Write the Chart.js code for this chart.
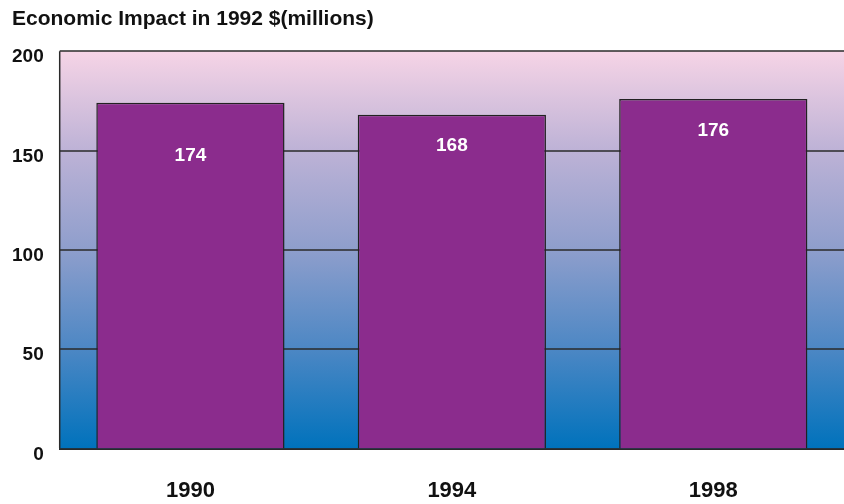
<!DOCTYPE html>
<html lang="en">
<head>
    <meta charset="UTF-8">
    <title>Economic Impact</title>
    <script src="https://cdn.jsdelivr.net/npm/chart.js"></script>
    <style>
        body {
            margin: 0;
            background: white;
            font-family: "Liberation Sans", Arial, sans-serif;
        }
    </style>
</head>
<body>
    <canvas id="impactChart" width="844" height="504"></canvas>

    <script>
        const years = ['1990', '1994', '1998'];
        const impact = [174, 168, 176];
        const yTicks = [0, 50, 100, 150, 200];
        // how far below each bar top its value label sits
        const labelOffsets = [53, 31, 32];

        const FONT = '"Liberation Sans", Arial, sans-serif';

        // gradient fill behind the bars
        const backdrop = {
            id: 'backdrop',
            beforeDatasetsDraw(chart) {
                const a = chart.chartArea;
                const ctx = chart.ctx;
                const g = ctx.createLinearGradient(0, a.top, 0, a.bottom);
                g.addColorStop(0, '#f6d4e6');
                g.addColorStop(0.25, '#bdb2d6');
                g.addColorStop(0.5, '#8e9ecc');
                g.addColorStop(0.75, '#4c87c4');
                g.addColorStop(1, '#0072bc');
                ctx.save();
                ctx.fillStyle = g;
                ctx.fillRect(a.left, a.top, a.right - a.left, a.bottom - a.top);
                // grid lines over the fill, under the bars
                const y = chart.scales.y;
                ctx.strokeStyle = '#2a2a2a';
                ctx.lineWidth = 1.5;
                yTicks.forEach(function(t) {
                    const py = Math.round(y.getPixelForValue(t));
                    ctx.beginPath();
                    ctx.moveTo(a.left, py);
                    ctx.lineTo(a.right, py);
                    ctx.stroke();
                });
                ctx.beginPath();
                ctx.moveTo(a.left, a.top);
                ctx.lineTo(a.left, a.bottom);
                ctx.stroke();
                ctx.restore();
            }
        };

        const valueLabels = {
            id: 'valueLabels',
            afterDatasetsDraw(chart) {
                const ctx = chart.ctx;
                const meta = chart.getDatasetMeta(0);
                ctx.save();
                ctx.fillStyle = 'white';
                ctx.font = 'bold 19px ' + FONT;
                ctx.textAlign = 'center';
                ctx.textBaseline = 'middle';
                meta.data.forEach(function(bar, i) {
                    ctx.fillText(impact[i], bar.x, bar.y + labelOffsets[i]);
                });
                ctx.restore();
            }
        };

        const ctx = document.getElementById('impactChart').getContext('2d');
        new Chart(ctx, {
            type: 'bar',
            data: {
                labels: years,
                datasets: [{
                    data: impact,
                    backgroundColor: '#8b2c8d',
                    borderColor: '#222222',
                    borderWidth: 1.5,
                    borderSkipped: 'bottom',
                    categoryPercentage: 0.72,
                    barPercentage: 1
                }]
            },
            options: {
                responsive: false,
                animation: false,
                layout: { padding: { left: 12, right: 0, top: 0, bottom: 0 } },
                plugins: {
                    legend: { display: false },
                    tooltip: { enabled: false },
                    title: {
                        display: true,
                        text: 'Economic Impact in 1992 $(millions)',
                        align: 'start',
                        color: '#111',
                        font: { family: FONT, size: 21, weight: 'bold' },
                        padding: { top: 7, bottom: 19 }
                    }
                },
                scales: {
                    x: {
                        // tick gap comes from tickLength (counted once), not padding
                        grid: { display: false, tickLength: 29 },
                        border: { display: true, color: '#2a2a2a', width: 2 },
                        ticks: {
                            color: '#111',
                            padding: 0,
                            font: { family: FONT, size: 22, weight: 'bold' }
                        }
                    },
                    y: {
                        min: 0,
                        max: 200,
                        afterBuildTicks(axis) {
                            axis.ticks = yTicks.map(function(v) { return { value: v }; });
                        },
                        grid: { display: false, tickLength: 16 },
                        border: { display: false },
                        ticks: {
                            color: '#111',
                            padding: 0,
                            labelOffset: 6,
                            font: { family: FONT, size: 19, weight: 'bold' }
                        }
                    }
                }
            },
            plugins: [backdrop, valueLabels]
        });
    </script>
</body>
</html>
